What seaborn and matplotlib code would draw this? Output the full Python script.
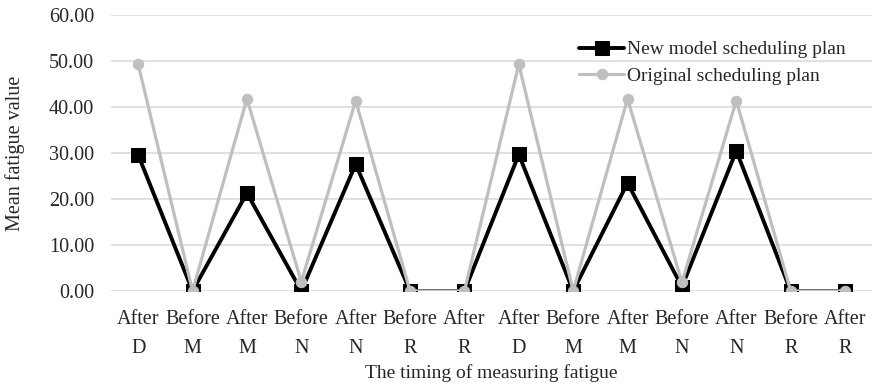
import numpy as np
import pandas as pd
import seaborn as sns
import matplotlib.pyplot as plt
from matplotlib.ticker import FormatStrFormatter

sns.set_style("white")
plt.rcParams["font.family"] = ["Liberation Serif", "DejaVu Serif"]

timing = ["After", "Before", "After", "Before", "After", "Before", "After",
          "After", "Before", "After", "Before", "After", "Before", "After"]
shift = ["D", "M", "M", "N", "N", "R", "R",
         "D", "M", "M", "N", "N", "R", "R"]
new_plan = [29.6, 0.0, 21.3, 0.0, 27.6, 0.0, 0.0,
            29.7, 0.0, 23.5, 0.9, 30.5, 0.0, 0.0]
orig_plan = [49.3, 0.0, 41.8, 2.0, 41.4, 0.0, 0.0,
             49.3, 0.0, 41.8, 1.9, 41.4, 0.0, 0.0]

pos = np.arange(len(timing))
df = pd.DataFrame({"pos": pos, "new": new_plan, "orig": orig_plan})

fig = plt.figure(figsize=(8.74, 3.88), dpi=100)
ax = fig.add_axes([0.127, 0.25, 0.871, 0.711])

sns.lineplot(data=df, x="pos", y="new", ax=ax, color="black", lw=2.8,
             marker="s", markersize=10, markeredgecolor="black",
             label="New model scheduling plan")
sns.lineplot(data=df, x="pos", y="orig", ax=ax, color="#BFBFBF", lw=2.3,
             marker="o", markersize=7.5, markeredgecolor="#BFBFBF",
             label="Original scheduling plan")

ax.set_xlim(-0.5, len(timing) - 0.5)
ax.set_ylim(0, 60)
ax.set_yticks(np.arange(0, 61, 10))
ax.yaxis.set_major_formatter(FormatStrFormatter("%.2f"))
ax.set_xticks(pos)
ax.set_xticklabels([f"{t}\n{s}" for t, s in zip(timing, shift)], linespacing=1.65)
ax.tick_params(axis="both", length=0, labelsize=14.5)
ax.tick_params(axis="x", pad=14)
ax.tick_params(axis="y", pad=12)
ax.grid(axis="y", color="#D9D9D9", lw=1.1)
ax.set_axisbelow(True)
for s in ax.spines.values():
    s.set_visible(False)

ax.set_xlabel("The timing of measuring fatigue", fontsize=14)
ax.set_ylabel("Mean fatigue value", fontsize=14.5)
ax.xaxis.set_label_coords(0.5, -0.265)
ax.yaxis.set_label_coords(-0.113, 0.5)

leg = ax.legend(loc="upper right", bbox_to_anchor=(0.975, 0.935), frameon=False,
                fontsize=14, handlelength=2.3, handletextpad=0.15,
                labelspacing=0.45, borderaxespad=0)

fig.savefig("out.png", dpi=100)
